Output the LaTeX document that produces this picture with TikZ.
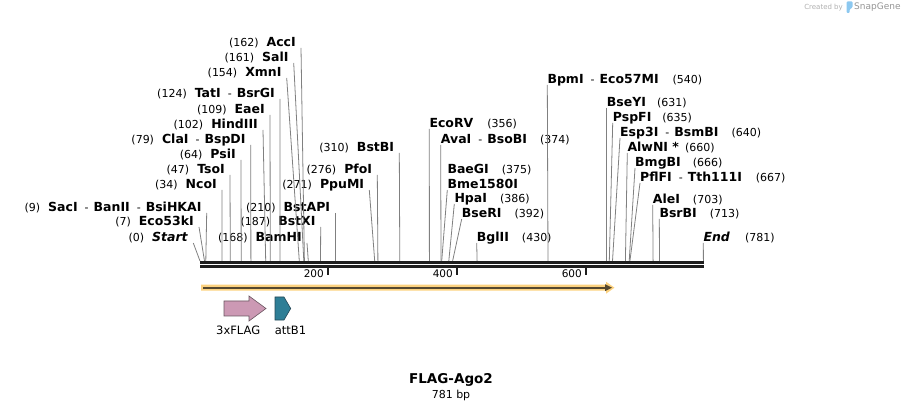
\documentclass[tikz,border=0pt]{standalone}
\usepackage{fontspec}
\setmainfont{DejaVu Sans}
\usetikzlibrary{positioning}

\definecolor{cutgray}{RGB}{128,128,128}
\definecolor{barblack}{RGB}{30,30,30}
\definecolor{featyel}{RGB}{252,210,128}
\definecolor{featdark}{RGB}{85,72,48}
\definecolor{flagpink}{RGB}{204,153,180}
\definecolor{flagedge}{RGB}{105,85,95}
\definecolor{atteal}{RGB}{46,126,150}
\definecolor{attedge}{RGB}{35,70,85}
\definecolor{credgray}{RGB}{175,175,175}
\definecolor{logoblue}{RGB}{140,200,240}

\newcommand{\cutnum}[1]{{\fontsize{11}{12}\selectfont(#1)}}
\newcommand{\orbar}{\hspace{7pt}{\fontsize{11}{12}\selectfont-}\hspace{5pt}}
\newcommand{\enz}[1]{\textbf{#1}}

\begin{document}
\begin{tikzpicture}[x=1pt,y=-1pt,
    lab/.style={font=\fontsize{12.5}{14}\selectfont, inner xsep=5pt, inner ysep=0pt,
      text height=9pt, text depth=1.5pt, anchor=south east},
    rlab/.style={lab, inner xsep=0pt, anchor=south west},
    cut/.style={draw=cutgray, line width=0.8pt},
    tickline/.style={draw=barblack, line width=1.6pt},
    ticklab/.style={font=\fontsize{10.5}{12}\selectfont, inner sep=1pt, anchor=east},
    featlab/.style={font=\fontsize{11.5}{13}\selectfont, inner sep=0pt}]
  \useasboundingbox (0,0) rectangle (904,411);

  % cut positions on the sequence
  \coordinate (p0) at (200,261);
  \coordinate (p7) at (204.5,261);
  \coordinate (p9) at (205.8,261);
  \coordinate (p34) at (221.9,261);
  \coordinate (p47) at (230.3,261);
  \coordinate (p64) at (241.2,261);
  \coordinate (p79) at (250.9,261);
  \coordinate (p102) at (265.7,261);
  \coordinate (p109) at (270.3,261);
  \coordinate (p124) at (279.9,261);
  \coordinate (p154) at (299.3,261);
  \coordinate (p161) at (303.8,261);
  \coordinate (p162) at (304.4,261);
  \coordinate (p168) at (308.3,261);
  \coordinate (p187) at (320.5,261);
  \coordinate (p210) at (335.3,261);
  \coordinate (p271) at (374.7,261);
  \coordinate (p276) at (377.9,261);
  \coordinate (p310) at (399.8,261);
  \coordinate (p356) at (429.4,261);
  \coordinate (p374) at (441.0,261);
  \coordinate (p375) at (441.7,261);
  \coordinate (p386) at (448.8,261);
  \coordinate (p392) at (452.6,261);
  \coordinate (p430) at (477.1,261);
  \coordinate (p540) at (548.0,261);
  \coordinate (p631) at (606.7,261);
  \coordinate (p635) at (609.3,261);
  \coordinate (p640) at (612.5,261);
  \coordinate (p660) at (625.4,261);
  \coordinate (p666) at (629.2,261);
  \coordinate (p667) at (629.9,261);
  \coordinate (p703) at (653.1,261);
  \coordinate (p713) at (659.5,261);
  \coordinate (p781) at (703.4,261);

  % sites left of their cut
  \node[lab] (accI) at (301,48) {\cutnum{162}\hspace{8pt}\enz{AccI}};
  \node[lab] (salI) at (293.7,63) {\cutnum{161}\hspace{8pt}\enz{SalI}};
  \node[lab] (xmnI) at (286.7,78) {\cutnum{154}\hspace{8pt}\enz{XmnI}};
  \node[lab] (tatI) at (280,99) {\cutnum{124}\hspace{8pt}\enz{TatI}\orbar\enz{BsrGI}};
  \node[lab] (eaeI) at (270,115) {\cutnum{109}\hspace{8pt}\enz{EaeI}};
  \node[lab] (hindIII) at (263,130) {\cutnum{102}\hspace{8pt}\enz{HindIII}};
  \node[lab] (claI) at (250.7,145) {\cutnum{79}\hspace{8pt}\enz{ClaI}\orbar\enz{BspDI}};
  \node[lab] (psiI) at (241,160) {\cutnum{64}\hspace{8pt}\enz{PsiI}};
  \node[lab] (tsoI) at (230,175) {\cutnum{47}\hspace{8pt}\enz{TsoI}};
  \node[lab] (ncoI) at (222,190) {\cutnum{34}\hspace{8pt}\enz{NcoI}};
  \node[lab] (sacI) at (206.7,213) {\cutnum{9}\hspace{8pt}\enz{SacI}\orbar\enz{BanII}\orbar\enz{BsiHKAI}};
  \node[lab] (eco53kI) at (199,227) {\cutnum{7}\hspace{8pt}\enz{Eco53kI}};
  \node[lab] (start) at (193.3,243) {\cutnum{0}\hspace{8pt}\textbf{\textit{Start}}};
  \node[lab] (bamHI) at (307,243) {\cutnum{168}\hspace{8pt}\enz{BamHI}};
  \node[lab] (bstXI) at (320.7,227) {\cutnum{187}\hspace{8pt}\enz{BstXI}};
  \node[lab] (bstAPI) at (335.3,213) {\cutnum{210}\hspace{8pt}\enz{BstAPI}};
  \node[lab] (ppuMI) at (369.3,190) {\cutnum{271}\hspace{8pt}\enz{PpuMI}};
  \node[lab] (pfoI) at (377.3,175) {\cutnum{276}\hspace{8pt}\enz{PfoI}};
  \node[lab] (bstBI) at (399.3,153) {\cutnum{310}\hspace{8pt}\enz{BstBI}};

  % sites right of their cut
  \node[rlab] (ecoRV) at (429.3,129) {\enz{EcoRV}\hspace{14pt}\cutnum{356}};
  \node[rlab] (avaI) at (440.7,145) {\enz{AvaI}\orbar\enz{BsoBI}\hspace{13pt}\cutnum{374}};
  \node[rlab] (baeGI) at (447.3,175) {\enz{BaeGI}\hspace{13pt}\cutnum{375}};
  \node[rlab] (bme1580I) at (447.3,190) {\enz{Bme1580I}};
  \node[rlab] (hpaI) at (454.3,204) {\enz{HpaI}\hspace{13pt}\cutnum{386}};
  \node[rlab] (bseRI) at (461.7,219) {\enz{BseRI}\hspace{13pt}\cutnum{392}};
  \node[rlab] (bglII) at (476.7,243) {\enz{BglII}\hspace{13pt}\cutnum{430}};
  \node[rlab] (bpmI) at (547.3,85) {\enz{BpmI}\orbar\enz{Eco57MI}\hspace{14pt}\cutnum{540}};
  \node[rlab] (bseYI) at (606.7,108) {\enz{BseYI}\hspace{11pt}\cutnum{631}};
  \node[rlab] (pspFI) at (612.7,123) {\enz{PspFI}\hspace{11pt}\cutnum{635}};
  \node[rlab] (esp3I) at (620,138) {\enz{Esp3I}\orbar\enz{BsmBI}\hspace{13pt}\cutnum{640}};
  \node[rlab] (alwNI) at (627.3,153) {\enz{AlwNI *}\hspace{6pt}\cutnum{660}};
  \node[rlab] (bmgBI) at (635,168) {\enz{BmgBI}\hspace{12pt}\cutnum{666}};
  \node[rlab] (pflFI) at (640,183) {\enz{PflFI}\orbar\enz{Tth111I}\hspace{14pt}\cutnum{667}};
  \node[rlab] (aleI) at (652.7,205) {\enz{AleI}\hspace{13pt}\cutnum{703}};
  \node[rlab] (bsrBI) at (659.3,219) {\enz{BsrBI}\hspace{13pt}\cutnum{713}};
  \node[rlab] (end) at (703.3,243) {\textbf{\textit{End}}\hspace{15pt}\cutnum{781}};

  % cut lines
  \draw[cut] (accI.south east) -- (p162);
  \draw[cut] (salI.south east) -- (p161);
  \draw[cut] (xmnI.south east) -- (p154);
  \draw[cut] (tatI.south east) -- (p124);
  \draw[cut] (eaeI.south east) -- (p109);
  \draw[cut] (hindIII.south east) -- (p102);
  \draw[cut] (claI.south east) -- (p79);
  \draw[cut] (psiI.south east) -- (p64);
  \draw[cut] (tsoI.south east) -- (p47);
  \draw[cut] (ncoI.south east) -- (p34);
  \draw[cut] (sacI.south east) -- (p9);
  \draw[cut] (eco53kI.south east) -- (p7);
  \draw[cut] (start.south east) -- (p0);
  \draw[cut] (bamHI.south east) -- (p168);
  \draw[cut] (bstXI.south east) -- (p187);
  \draw[cut] (bstAPI.south east) -- (p210);
  \draw[cut] (ppuMI.south east) -- (p271);
  \draw[cut] (pfoI.south east) -- (p276);
  \draw[cut] (bstBI.south east) -- (p310);
  \draw[cut] (ecoRV.south west) -- (p356);
  \draw[cut] (avaI.south west) -- (p374);
  \draw[cut] (bme1580I.south west) -- (p375);
  \draw[cut] (hpaI.south west) -- (p386);
  \draw[cut] (bseRI.south west) -- (p392);
  \draw[cut] (bglII.south west) -- (p430);
  \draw[cut] (bpmI.south west) -- (p540);
  \draw[cut] (bseYI.south west) -- (p631);
  \draw[cut] (pspFI.south west) -- (p635);
  \draw[cut] (esp3I.south west) -- (p640);
  \draw[cut] (alwNI.south west) -- (p660);
  \draw[cut] (bmgBI.south west) -- (p666);
  \draw[cut] (pflFI.south west) -- (p667);
  \draw[cut] (aleI.south west) -- (p703);
  \draw[cut] (bsrBI.south west) -- (p713);
  \draw[cut] (end.south west) -- (p781);

  % sequence
  \fill[barblack] (200,261) rectangle (704,264);
  \fill[barblack] (200,265) rectangle (704,268);
  \coordinate (t200) at (327.7,268);
  \coordinate (t400) at (456.7,268);
  \coordinate (t600) at (585.7,268);
  \draw[tickline] (t200) -- ++(0,7);
  \draw[tickline] (t400) -- ++(0,7);
  \draw[tickline] (t600) -- ++(0,7);
  \node[ticklab] (l200) at (325,274) {200};
  \node[ticklab] (l400) at (454,274) {400};
  \node[ticklab] (l600) at (583,274) {600};

  % ORF
  \fill[featyel] (201,284.7) -- (606,284.7) -- (606,281.7) -- (614.5,287.7)
    -- (606,293.7) -- (606,290.7) -- (201,290.7) -- cycle;
  \draw[featdark, line width=2pt] (203,287.7) -- (606,287.7);
  \fill[featdark] (605,284.2) -- (612,287.7) -- (605,291.2) -- cycle;

  % features
  \filldraw[fill=flagpink, draw=flagedge, line width=0.6pt]
    (224,301) -- (249,301) -- (249,296) -- (266,308.5) -- (249,321)
    -- (249,316) -- (224,316) -- cycle;
  \filldraw[fill=atteal, draw=attedge, line width=0.6pt]
    (275,297) -- (284,297) -- (290.7,308.5) -- (284,320) -- (275,320) -- cycle;
  \node[featlab] (flag) at (238.2,330) {3xFLAG};
  \node[featlab] (attB1) at (290.5,330) {attB1};

  % title
  \node[font=\bfseries\fontsize{13.5}{15}\selectfont] (title) at (451,380) {FLAG-Ago2};
  \node[font=\fontsize{11}{12}\selectfont] (len) at (451,395.5) {781 bp};

  % credit
  \node[font=\fontsize{7}{8}\selectfont, text=credgray, anchor=east, inner sep=0pt] (made) at (843,7.5) {Created by};
  \fill[logoblue, rounded corners=1pt] (846.5,1.5) -- (852.5,1.5) -- (852.5,7.5) -- (849.5,9.5)
    -- (849.5,13) -- (846.5,13) -- cycle;
  \node[font=\fontsize{9}{10}\selectfont, text=credgray!85!black, anchor=west, inner sep=0pt] (snap) at (854,7.5) {SnapGene};
\end{tikzpicture}
\end{document}
